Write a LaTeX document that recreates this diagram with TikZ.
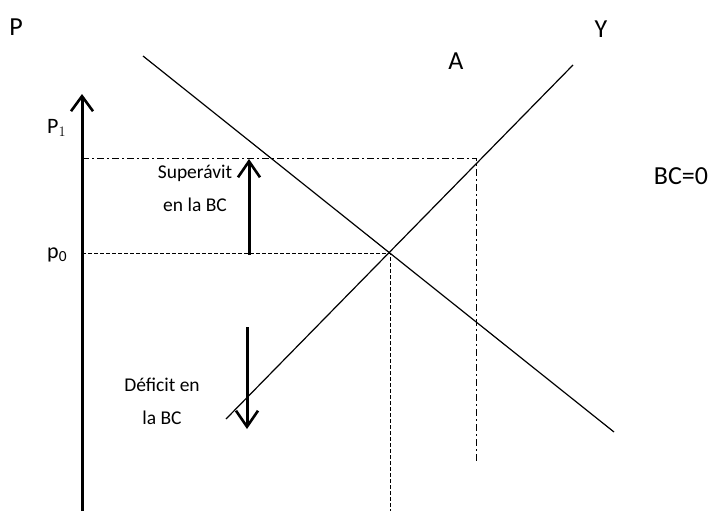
\documentclass[tikz,border=0pt]{standalone}
\usepackage{fontspec}
\setmainfont{Carlito}
\usetikzlibrary{arrows.meta}
\tikzset{
  curve/.style={line width=1.2pt},
  axisline/.style={line width=3pt,-{Straight Barb[length=15pt,width=22pt,line width=2.6pt]}},
  shiftarrow/.style={line width=3pt,-{Straight Barb[length=16pt,width=22pt,line width=2.6pt]}},
  dashline/.style={line width=0.9pt,dash pattern=on 4pt off 2pt},
  dashdotline/.style={line width=0.9pt,dash pattern=on 7pt off 3pt on 2pt off 3pt},
  bigtxt/.style={font=\fontsize{26}{30}\selectfont,inner sep=0pt},
  smalltxt/.style={font=\fontsize{19.5}{33}\selectfont,inner sep=0pt,align=center},
  axtxt/.style={font=\fontsize{22}{24}\selectfont,inner sep=0pt,anchor=base west},
}
\begin{document}
\begin{tikzpicture}[x=1pt,y=-1pt]
\useasboundingbox (0,0) rectangle (714,511);
% axis
\coordinate (axb) at (82,511);
\coordinate (axt) at (82,94);
\draw[axisline] (axb) -- (axt);
% curves
\coordinate (a1) at (143,56);
\coordinate (a2) at (614,432);
\draw[curve] (a1) -- (a2);
\coordinate (y1) at (226,419);
\coordinate (y2) at (573,65);
\draw[curve] (y1) -- (y2);
% reference lines
\coordinate (p1l) at (82,158);
\coordinate (p1r) at (476,158);
\coordinate (p1b) at (476,463);
\draw[dashdotline] (p1l) -- (p1r) -- (p1b);
\coordinate (p0l) at (82,253);
\coordinate (e) at (390,253);
\coordinate (eb) at (390,511);
\draw[dashline] (p0l) -- (e) -- (eb);
% shift arrows
\coordinate (u0) at (249,255);
\coordinate (u1) at (249,159);
\draw[shiftarrow] (u0) -- (u1);
\coordinate (d0) at (247,327);
\coordinate (d1) at (247,429);
\draw[shiftarrow] (d0) -- (d1);
% labels
\node[bigtxt] (lP) at (16,27) {P};
\node[bigtxt] (lY) at (601,29) {Y};
\node[bigtxt] (lA) at (456,61) {A};
\node[bigtxt] (lBC) at (681,176) {BC=0};
\node[axtxt] (lP1) at (47,133) {P$_{1}$};
\node[axtxt] (lp0) at (47,258) {p\textsubscript{0}};
\node[smalltxt] (sup) at (195,188) {Superávit\\en la BC};
\node[smalltxt] (def) at (162,401) {Déficit en\\la BC};
\end{tikzpicture}
\end{document}
